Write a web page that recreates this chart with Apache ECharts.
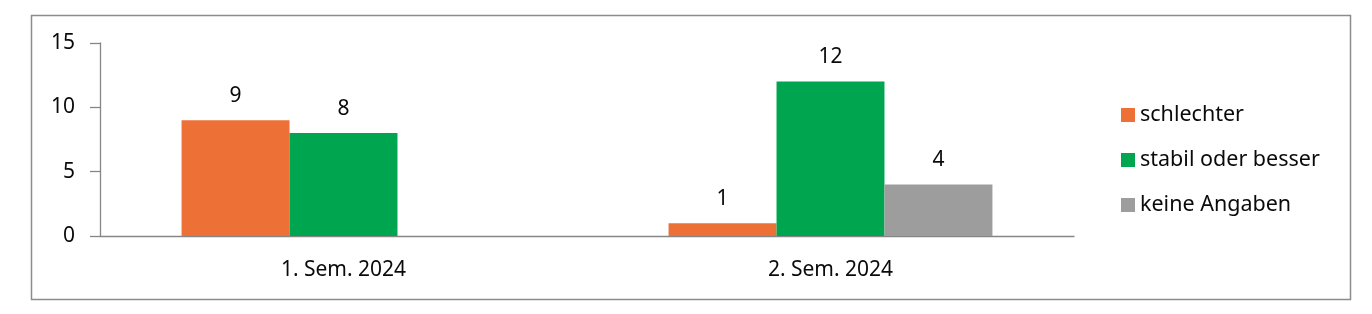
<!DOCTYPE html>
<html>
<head>
<meta charset="utf-8">
<script src="https://cdn.jsdelivr.net/npm/echarts@6/dist/echarts.min.js"></script>
<style>html,body{margin:0;padding:0;background:#fff}#c{width:1372px;height:314px}</style>
</head>
<body>
<div id="c"></div>
<script>
const categories = ['1. Sem. 2024', '2. Sem. 2024'];
const seriesNames = ['schlechter', 'stabil oder besser', 'keine Angaben'];
const schlechter = [9, 1];
const stabilOderBesser = [8, 12];
const keineAngaben = [null, 4];
const yTicks = { min: 0, max: 15, interval: 5 };

const colors = ['#ED7137', '#00A54F', '#9D9D9D'];
const font = 'Noto Sans';
const values = [schlechter, stabilOderBesser, keineAngaben];

const chart = echarts.init(document.getElementById('c'));
chart.setOption({
  animation: false,
  textStyle: { fontFamily: font },
  graphic: [{
    type: 'rect', silent: true, z: -1,
    shape: { x: 31.5, y: 15.5, width: 1319, height: 284 },
    style: { fill: 'none', stroke: '#8c8c8c', lineWidth: 1.5 }
  }],
  grid: { left: 100, right: 298, top: 43, bottom: 78 },
  legend: {
    orient: 'vertical', left: 1116, top: 99,
    itemWidth: 14, itemHeight: 14, itemGap: 23, icon: 'rect',
    textStyle: { fontFamily: font, fontSize: 21.5, color: '#0a0a0a', lineHeight: 22 },
    data: seriesNames
  },
  xAxis: {
    type: 'category', data: categories,
    axisLine: { lineStyle: { color: '#868686', width: 1.3 } },
    axisTick: { length: 8, lineStyle: { color: '#868686', width: 1.3 } },
    axisLabel: { margin: 24, fontSize: 21, color: '#0a0a0a', fontFamily: font }
  },
  yAxis: {
    type: 'value', min: yTicks.min, max: yTicks.max, interval: yTicks.interval,
    splitLine: { show: false },
    axisLine: { show: true, lineStyle: { color: '#868686', width: 1.3 } },
    axisTick: { show: true, length: 10, lineStyle: { color: '#868686', width: 1.3 } },
    axisLabel: { margin: 25, fontSize: 21, color: '#0a0a0a', fontFamily: font }
  },
  series: seriesNames.map((n, i) => ({
    name: n, type: 'bar', data: values[i],
    barGap: '0%', barCategoryGap: '33.5%',
    itemStyle: { color: colors[i] },
    label: { show: true, position: 'top', distance: 14, fontSize: 21, color: '#0a0a0a', fontFamily: font }
  }))
});
</script>
</body>
</html>
